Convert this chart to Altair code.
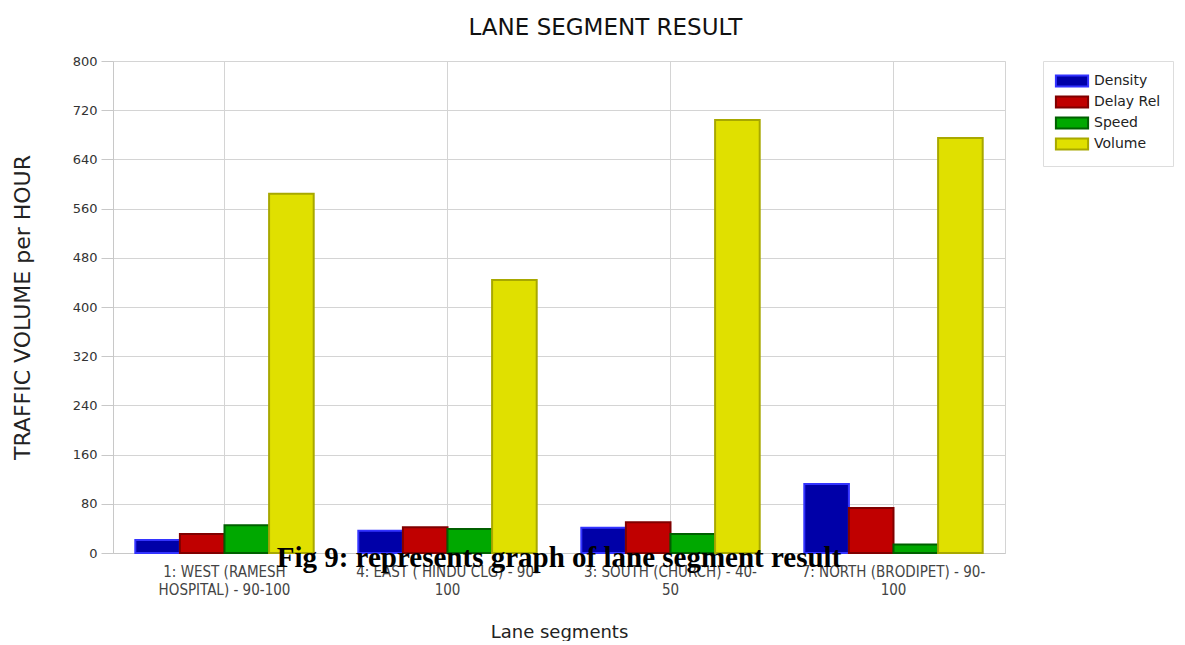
import altair as alt
import pandas as pd

categories = [
    "1: WEST (RAMESH HOSPITAL) - 90-100",
    "4: EAST ( HINDU CLG) - 90-100",
    "3: SOUTH (CHURCH) - 40-50",
    "7: NORTH (BRODIPET) - 90-100",
]
tick_lines = [
    ["1: WEST (RAMESH", "HOSPITAL) - 90-100"],
    ["4: EAST ( HINDU CLG) - 90-", "100"],
    ["3: SOUTH (CHURCH) - 40-", "50"],
    ["7: NORTH (BRODIPET) - 90-", "100"],
]
series = ["Density", "Delay Rel", "Speed", "Volume"]
density = [21, 36, 41, 112]
delay_rel = [31, 42, 50, 73]
speed = [45, 39, 31, 14]
volume = [584, 444, 704, 675]

fills = ["#0000A8", "#C00000", "#00A800", "#E0E000"]
strokes = ["#3333FF", "#800000", "#006000", "#A8A800"]

FONT = "DejaVu Sans"
NARROW = "DejaVu Sans Condensed, Liberation Sans Narrow, DejaVu Sans"

rows = []
for s, vals in zip(series, [density, delay_rel, speed, volume]):
    for c, v in zip(categories, vals):
        rows.append({"segment": c, "series": s, "value": v})
df = pd.DataFrame(rows)

label_map = "{" + ",".join(
    "'" + c.replace("'", "\\'") + "':[" + ",".join("'" + l + "'" for l in ls) + "]"
    for c, ls in zip(categories, tick_lines)
) + "}"

bars = alt.Chart(df).mark_bar(strokeWidth=2).encode(
    x=alt.X("segment:N", sort=categories,
            scale=alt.Scale(paddingInner=0.2, paddingOuter=0.1),
            axis=alt.Axis(title="Lane segments", labelAngle=0,
                          labelExpr=label_map + "[datum.label]",
                          labelFont=NARROW, labelFontSize=15, labelLimit=400,
                          labelColor="#444444", labelPadding=11,
                          labelLineHeight=18,
                          ticks=False, domainColor="#c8c8c8",
                          gridColor="#d4d4d4", grid=True, bandPosition=0.5,
                          titleFont=FONT, titleFontSize=18,
                          titleFontWeight="normal", titleColor="#222222",
                          titlePadding=26)),
    xOffset=alt.XOffset("series:N", sort=series,
                        scale=alt.Scale(paddingInner=0, paddingOuter=0)),
    y=alt.Y("value:Q",
            scale=alt.Scale(domain=[0, 800]),
            axis=alt.Axis(title="TRAFFIC VOLUME per HOUR", values=list(range(0, 801, 80)),
                          labelFont=FONT, labelFontSize=13,
                          labelColor="#333333", labelPadding=4,
                          tickSize=12, tickColor="#c8c8c8", domainColor="#c8c8c8",
                          gridColor="#d4d4d4",
                          titleFont=FONT, titleFontSize=22,
                          titleFontWeight="normal", titleColor="#222222",
                          titlePadding=38)),
    fill=alt.Fill("series:N", sort=series,
                  scale=alt.Scale(domain=series, range=fills),
                  legend=alt.Legend(title=None, orient="right", offset=38,
                                    symbolType="M-2.3,-0.8H2.3V0.8H-2.3Z",
                                    symbolSize=196, symbolStrokeWidth=2,
                                    symbolOffset=9,
                                    labelFont=FONT, labelFontSize=14,
                                    labelColor="#222222", rowPadding=1,
                                    strokeColor="#dddddd", padding=12,
                                    labelOffset=14)),
    stroke=alt.Stroke("series:N", sort=series,
                      scale=alt.Scale(domain=series, range=strokes),
                      legend=None),
)

caption_df = pd.DataFrame({"t": ["Fig 9: represents graph of lane segment result"]})
caption = alt.Chart(caption_df).mark_text(
    font="Liberation Serif", fontSize=29, fontWeight="bold", color="#000000",
    baseline="alphabetic", align="center"
).encode(text="t:N", x=alt.value(446), y=alt.value(14 + 492))

chart = alt.layer(bars, caption).properties(
    width=892, height=492,
    padding={"left": 3, "top": 9, "right": 0, "bottom": 0},
    title=alt.TitleParams("LANE SEGMENT RESULT", font=FONT, fontSize=23,
                          fontWeight="normal", color="#111111", offset=15,
                          anchor="middle", frame="bounds", dx=13),
).configure_view(stroke="#d4d4d4").configure_axis(gridWidth=1)

chart.save("out.html", embed_options={"renderer": "svg", "actions": False})
